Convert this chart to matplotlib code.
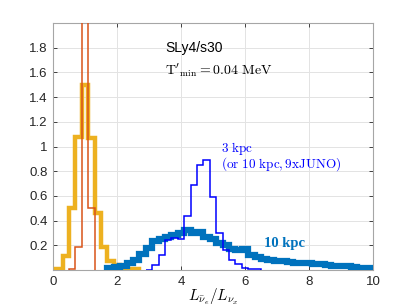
import numpy as np
import matplotlib
matplotlib.use('Agg')
import matplotlib.pyplot as plt

plt.rcParams['mathtext.fontset'] = 'cm'
plt.rcParams['font.family'] = ['Liberation Sans', 'DejaVu Sans']

# histogram edges / heights
edges_orange = [0.5, 0.7, 0.9, 1.1, 1.3]
vals_orange = [0.01, 0.19, 5.0, 0.50]

edges_yellow = np.round(np.arange(0.1, 2.71, 0.2), 2)
vals_yellow = [0.01, 0.11, 0.50, 1.08, 1.50, 1.07, 0.46, 0.19, 0.075, 0.04, 0.02, 0.01, 0.005]

edges_10kpc = np.round(np.arange(1.7, 10.11, 0.2), 2)
vals_10kpc = [0.02, 0.025, 0.035, 0.06, 0.08, 0.13, 0.175, 0.235, 0.255, 0.27,
              0.28, 0.30, 0.32, 0.30, 0.31, 0.27, 0.25, 0.215, 0.20, 0.17,
              0.165, 0.17, 0.12, 0.105, 0.085, 0.08, 0.07, 0.07, 0.065, 0.06,
              0.06, 0.055, 0.045, 0.045, 0.04, 0.035, 0.032, 0.03, 0.025, 0.02,
              0.015, 0.01]

edges_3kpc = np.round(np.arange(2.9, 6.51, 0.2), 2)
vals_3kpc = [0.003, 0.04, 0.12, 0.24, 0.26, 0.25, 0.44, 0.69, 0.85, 0.89,
             0.59, 0.30, 0.16, 0.08, 0.05, 0.02, 0.01, 0.01]

xticks = [0, 2, 4, 6, 8, 10]
yticks = [0.2, 0.4, 0.6, 0.8, 1, 1.2, 1.4, 1.6, 1.8]

fig = plt.figure(figsize=(4.11, 3.08), dpi=100)
ax = fig.add_axes([0.129, 0.1234, 0.7785, 0.8016])

ax.stairs(vals_yellow, edges_yellow, color='#EDB120', lw=3.2, zorder=3)
ax.stairs(vals_orange, edges_orange, color='#D95319', lw=1.1, zorder=4)
ax.stairs(vals_10kpc, edges_10kpc, color='#0072BD', lw=4.5, zorder=3)
ax.stairs(vals_3kpc, edges_3kpc, color='#0000FF', lw=1.1, zorder=4)

ax.set_xlim(0, 10)
ax.set_ylim(0, 2)
ax.set_xticks(xticks)
ax.set_yticks(yticks)
ax.set_yticklabels([('%g' % v) for v in yticks])
ax.grid(True, color='#E3E3E3', lw=0.7)
ax.set_axisbelow(True)
ax.tick_params(direction='in', length=3, width=0.6, colors='#262626',
               labelsize=9.5, top=True, right=True, pad=4)
for s in ax.spines.values():
    s.set_color('#A6A6A6')
    s.set_linewidth(0.8)

ax.set_xlabel(r'$L_{\bar{\nu}_e}/L_{\nu_x}$', fontsize=11, labelpad=-1)

ax.text(3.5, 1.8, 'SLy4/s30', fontsize=10, va='center', ha='left')
ax.text(3.5, 1.62, r"$\mathrm{T'}_{\mathrm{min}} = 0.04\ \mathrm{MeV}$",
        fontsize=10, va='center', ha='left')
ax.text(5.25, 0.985, r'$\mathrm{3\ kpc}$', color='#0000FF', fontsize=9.5,
        va='center', ha='left')
ax.text(5.25, 0.855, r'$\mathrm{(or\ 10\ kpc,9xJUNO)}$', color='#0000FF',
        fontsize=9.5, va='center', ha='left')
ax.text(6.6, 0.215, '10 kpc', color='#0072BD', fontsize=10.5,
        family='Liberation Serif', fontweight='bold', va='center', ha='left')

fig.savefig('out.png', dpi=100)
